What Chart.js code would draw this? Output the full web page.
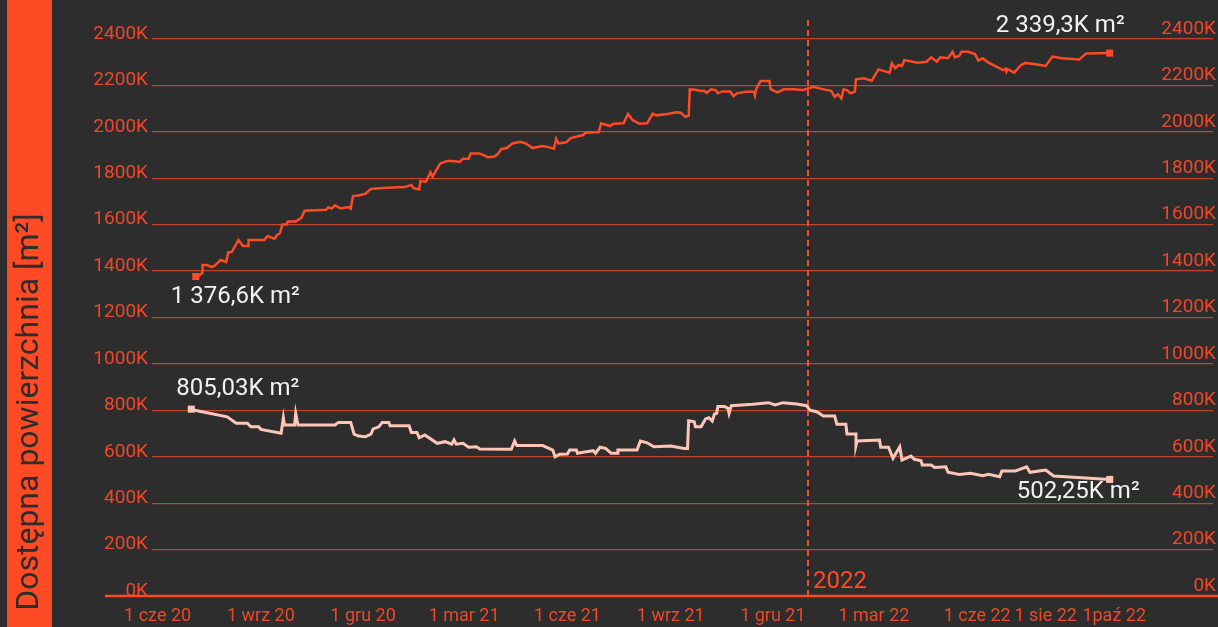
<!DOCTYPE html>
<html lang="pl">
<head>
<meta charset="utf-8">
<title>Dostępna powierzchnia</title>
<script src="https://cdn.jsdelivr.net/npm/chart.js@4/dist/chart.umd.min.js"></script>
<style>
    html, body { margin: 0; padding: 0; background: #2d2d2d; }
    canvas { display: block; }
</style>
</head>
<body>
<canvas id="myChart" width="1218" height="627"></canvas>
<script>
// dni liczone od 1 cze 2020, wartości w tys. m²
const upperDays = [34, 37, 40, 40, 44, 48, 51, 56, 61, 63, 66, 72, 76, 81, 81, 95, 98, 104, 107, 109,
    111, 115, 116, 123, 128, 131, 150, 152, 155, 158, 163, 170, 172, 174, 179, 185, 190, 200, 220, 226,
    228, 233, 234, 239, 243, 245, 250, 252, 258, 263, 269, 272, 277, 279, 286, 290, 294, 300, 303, 306,
    311, 316, 323, 328, 334, 343, 349, 353, 355, 357, 364, 368, 379, 381, 393, 395, 403, 406, 415, 419,
    423, 429, 436, 441, 444, 454, 462, 466, 470, 473, 474, 479, 484, 487, 489, 493, 497, 499, 503, 510,
    513, 516, 524, 531, 532, 533, 537, 545, 546, 552, 558, 566, 575, 584, 593, 600, 603, 606, 609, 611,
    614, 617, 621, 622, 629, 636, 642, 652, 654, 657, 660, 663, 665, 677, 685, 689, 694, 697, 704, 708,
    710, 714, 716, 722, 728, 731, 735, 740, 747, 753, 755, 756, 757, 763, 769, 773, 782, 791, 797, 805,
    821, 827, 848];
const upperValues = [1376.6, 1380, 1393, 1426, 1426, 1417, 1423, 1448, 1439, 1481, 1482, 1534, 1508, 1508, 1534, 1534, 1551, 1539, 1558, 1563,
    1601, 1601, 1614, 1614, 1629, 1660, 1664, 1675, 1669, 1683, 1670, 1676, 1669, 1723, 1726, 1733, 1754, 1758, 1762, 1771,
    1757, 1752, 1788, 1785, 1826, 1807, 1850, 1864, 1874, 1874, 1870, 1884, 1884, 1907, 1907, 1901, 1891, 1894, 1904, 1925,
    1930, 1950, 1957, 1950, 1930, 1939, 1933, 1927, 1970, 1950, 1955, 1973, 1986, 1996, 1999, 2037, 2025, 2035, 2037, 2077,
    2051, 2035, 2037, 2078, 2071, 2077, 2084, 2082, 2065, 2069, 2183, 2181, 2176, 2177, 2168, 2183, 2180, 2166, 2174, 2174,
    2154, 2166, 2173, 2173, 2156, 2183, 2219, 2219, 2184, 2170, 2183, 2183, 2180, 2194, 2183, 2177, 2151, 2162, 2144, 2183,
    2180, 2166, 2173, 2226, 2231, 2220, 2269, 2255, 2295, 2274, 2288, 2284, 2309, 2298, 2302, 2321, 2302, 2321, 2317, 2345,
    2321, 2327, 2345, 2345, 2335, 2307, 2317, 2298, 2281, 2266, 2271, 2259, 2271, 2255, 2288, 2297, 2291, 2284, 2324, 2317,
    2312, 2338, 2339.3];

const lowerDays = [30, 33, 62, 70, 80, 83, 90, 92, 110, 112, 113, 122, 123, 125, 158, 161, 172, 175, 179, 185,
    190, 192, 197, 200, 206, 207, 224, 226, 231, 233, 238, 249, 256, 262, 264, 266, 272, 277, 284, 287,
    315, 318, 320, 343, 352, 354, 358, 365, 367, 373, 374, 382, 388, 390, 394, 399, 404, 410, 410, 427,
    430, 436, 442, 457, 469, 472, 473, 478, 479, 484, 488, 491, 494, 496, 498, 499, 505, 508, 509, 511,
    530, 544, 550, 557, 569, 578, 581, 587, 593, 603, 605, 613, 614, 622, 622, 623, 643, 644, 651, 655,
    661, 663, 671, 674, 680, 681, 689, 692, 702, 704, 714, 724, 735, 740, 750, 752, 764, 774, 777, 791,
    798, 848];
const lowerValues = [805.03, 800, 772, 744, 744, 729, 729, 718, 701, 768, 737, 737, 787, 737, 737, 748, 748, 697, 689, 686,
    697, 720, 729, 748, 748, 734, 734, 705, 705, 682, 694, 658, 665, 654, 672, 654, 658, 641, 643, 633,
    632, 668, 648, 648, 629, 600, 611, 612, 629, 629, 615, 622, 626, 615, 641, 636, 615, 615, 629, 629,
    668, 660, 643, 646, 636, 636, 755, 751, 729, 729, 763, 768, 754, 784, 787, 816, 816, 809, 787, 820,
    826, 833, 823, 833, 827, 820, 801, 794, 776, 776, 740, 740, 698, 698, 648, 668, 672, 641, 641, 593,
    643, 586, 603, 589, 583, 564, 564, 554, 557, 533, 524, 529, 518, 524, 514, 539, 539, 557, 533, 543,
    517, 502.25];

const tickDays = [0, 92, 183, 273, 365, 457, 548, 638, 730, 791, 852];
const tickLabels = ['1 cze 20', '1 wrz 20', '1 gru 20', '1 mar 21', '1 cze 21', '1 wrz 21',
    '1 gru 21', '1 mar 22', '1 cze 22', '1 sie 22', '1paź 22'];
const yearMarkDay = 579;
const yearMarkLabel = '2022';
const yTitle = 'Dostępna powierzchnia [m²]';

const ORANGE = '#ff4a26';
const PINK = '#ffc6b8';
const GRID = '#c4432a';
const TICK = '#f0472a';
const BG = '#2d2d2d';

Chart.defaults.font.family = 'Roboto';

function toPoints(days, values) {
    return days.map((d, i) => ({ x: d, y: values[i] }));
}

function fmt(v) {
    const parts = String(v).split('.');
    const whole = parts[0].replace(/\B(?=(\d{3})+(?!\d))/g, ' ');
    return whole + (parts[1] ? ',' + parts[1] : '') + 'K m²';
}

function endsOnly(ctx) {
    const n = ctx.dataset.data.length;
    return (ctx.dataIndex === 0 || ctx.dataIndex === n - 1) ? 5 : 0;
}

const background = {
    id: 'background',
    beforeDraw(chart) {
        const c = chart.ctx;
        c.save();
        c.fillStyle = BG;
        c.fillRect(0, 0, chart.width, chart.height);
        c.fillStyle = ORANGE;
        c.fillRect(7, 0, 45, chart.height);
        c.translate(30, 412);
        c.rotate(-Math.PI / 2);
        c.font = '32px Roboto';
        c.fillStyle = BG;
        c.textAlign = 'center';
        c.textBaseline = 'middle';
        c.fillText(yTitle, 0, 0);
        c.restore();
    }
};

const yearMarker = {
    id: 'yearMarker',
    beforeDatasetsDraw(chart) {
        const c = chart.ctx;
        const x = Math.round(chart.scales.x.getPixelForValue(yearMarkDay));
        const bottom = chart.chartArea.bottom;
        c.save();
        c.strokeStyle = ORANGE;
        c.lineWidth = 2;
        c.setLineDash([6, 4]);
        c.beginPath();
        c.moveTo(x, 20);
        c.lineTo(x, bottom);
        c.stroke();
        c.setLineDash([]);
        c.font = '24px Roboto';
        c.fillStyle = ORANGE;
        c.textAlign = 'left';
        c.textBaseline = 'alphabetic';
        c.fillText(yearMarkLabel, x + 5, bottom - 8);
        c.restore();
    }
};

const axisLine = {
    id: 'axisLine',
    afterDraw(chart) {
        const c = chart.ctx;
        const y = chart.chartArea.bottom;
        c.save();
        c.strokeStyle = ORANGE;
        c.lineWidth = 2.5;
        c.beginPath();
        c.moveTo(105, y);
        c.lineTo(chart.width, y);
        c.stroke();
        c.restore();
    }
};

// przesunięcia podpisów względem pierwszego i ostatniego punktu
const labelOffsets = [
    { start: [-25, 20], end: [15, -27] },
    { start: [-15, -20], end: [30, 13] }
];

const endLabels = {
    id: 'endLabels',
    afterDatasetsDraw(chart) {
        const c = chart.ctx;
        c.save();
        c.font = '24px Roboto';
        c.fillStyle = '#f2f2f2';
        c.textBaseline = 'middle';
        chart.data.datasets.forEach((ds, i) => {
            const pts = chart.getDatasetMeta(i).data;
            const first = pts[0];
            const last = pts[pts.length - 1];
            const off = labelOffsets[i];
            c.textAlign = 'left';
            c.fillText(fmt(ds.data[0].y), first.x + off.start[0], first.y + off.start[1]);
            c.textAlign = 'right';
            c.fillText(fmt(ds.data[ds.data.length - 1].y), last.x + off.end[0], last.y + off.end[1]);
        });
        c.restore();
    }
};

const ctx = document.getElementById('myChart').getContext('2d');
const myChart = new Chart(ctx, {
    type: 'line',
    data: {
        datasets: [{
                data: toPoints(upperDays, upperValues),
                borderColor: ORANGE,
                backgroundColor: ORANGE,
                borderWidth: 2.5,
                pointStyle: 'rect',
                pointRadius: endsOnly,
                pointBorderWidth: 0,
                tension: 0
            }, {
                data: toPoints(lowerDays, lowerValues),
                borderColor: PINK,
                backgroundColor: PINK,
                borderWidth: 3,
                pointStyle: 'rect',
                pointRadius: endsOnly,
                pointBorderWidth: 0,
                tension: 0
            }]
    },
    options: {
        responsive: false,
        animation: false,
        layout: { padding: { top: 39, left: 0, right: 0, bottom: 0 } },
        plugins: {
            legend: { display: false },
            tooltip: { enabled: false }
        },
        scales: {
            x: {
                type: 'linear',
                min: -5,
                max: 940,
                grid: { display: false, drawTicks: false },
                border: { display: false },
                afterBuildTicks: s => { s.ticks = tickDays.map(v => ({ value: v })); },
                afterFit: s => { s.height = 31; },
                ticks: {
                    autoSkip: false,
                    maxRotation: 0,
                    color: TICK,
                    font: { size: 18 },
                    padding: 10,
                    callback: v => tickLabels[tickDays.indexOf(v)]
                }
            },
            y: {
                position: 'left',
                min: 0,
                max: 2400,
                afterFit: s => { s.width = 152; },
                grid: { color: GRID, lineWidth: 1.2, drawTicks: false },
                border: { display: false },
                ticks: {
                    stepSize: 200,
                    color: TICK,
                    font: { size: 19 },
                    padding: 4,
                    labelOffset: -5,
                    callback: v => v + 'K'
                }
            },
            y2: {
                position: 'right',
                min: 0,
                max: 2400,
                afterFit: s => { s.width = 0; },
                grid: { display: false, drawTicks: false },
                border: { display: false },
                ticks: {
                    mirror: true,
                    stepSize: 200,
                    color: TICK,
                    font: { size: 19 },
                    padding: 3,
                    labelOffset: -10,
                    callback: v => v + 'K'
                }
            }
        }
    },
    plugins: [background, yearMarker, endLabels, axisLine]
});
</script>
</body>
</html>
